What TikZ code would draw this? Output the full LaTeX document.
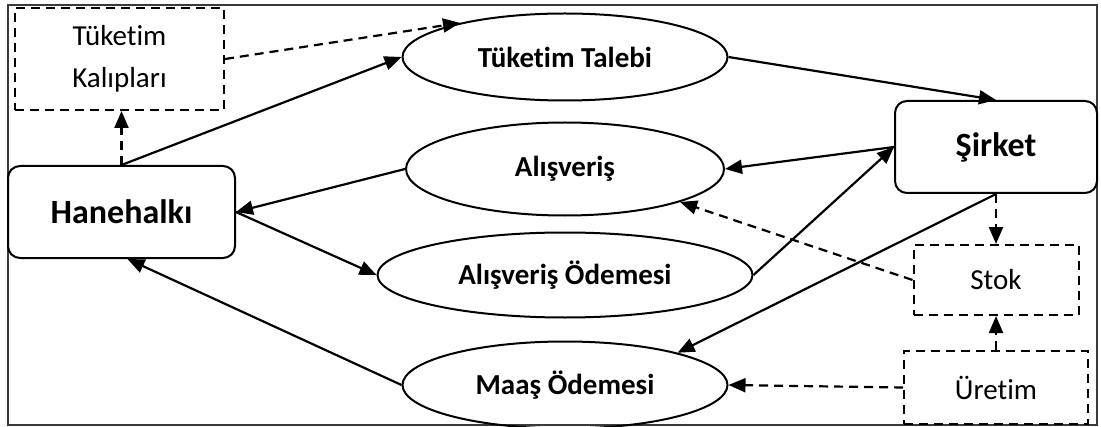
\documentclass[tikz,border=0pt]{standalone}
\usepackage{fontspec}
\setmainfont{Carlito}[Ligatures=NoCommon]
\usepackage{xcolor}
\usetikzlibrary{shapes.geometric, positioning, arrows.meta, calc}
\definecolor{frgray}{HTML}{3A3A3A}

\begin{document}
\begin{tikzpicture}[x=0.5pt, y=-0.5pt,
    ell/.style={ellipse, draw, line width=1pt, inner sep=0pt,
          font=\fontsize{14.5}{17}\selectfont\bfseries},
    mainbox/.style={rectangle, rounded corners=6pt, draw, line width=1pt, inner sep=0pt,
          font=\fontsize{17}{20}\selectfont\bfseries},
    dashbox/.style={rectangle, draw, dash pattern=on 4.5pt off 3pt, line width=1pt,
          inner sep=0pt, align=center, font=\fontsize{14.5}{21}\selectfont},
    arr/.style={-{Triangle[length=8.5pt,width=7pt]}, line width=1.1pt},
    darr/.style={arr, dash pattern=on 4.5pt off 3pt}]
  \useasboundingbox (0,0) rectangle (1101,427);
  \draw[frgray, line width=1pt] (8,5) rectangle (1097,425);

  % left side
  \node[dashbox, minimum width=104.5pt, minimum height=51pt] (tk) at (119.5,59) {Tüketim\\Kalıpları};
  \node[mainbox, minimum width=113.5pt, minimum height=46pt] (hh) at (121.5,212) {Hanehalkı};

  % flows in the middle
  \node[ell, minimum width=162.5pt, minimum height=43.5pt] (tt) at (565,57) {Tüketim Talebi};
  \node[ell, minimum width=159pt, minimum height=46.5pt, below=10pt of tt] (al) {Alışveriş};
  \node[ell, minimum width=187.5pt, minimum height=42.5pt, below=7.5pt of al] (ao) {Alışveriş Ödemesi};
  \node[ell, minimum width=162.5pt, minimum height=43.5pt, below=11pt of ao] (mo) {Maaş Ödemesi};

  % right side
  \node[mainbox, minimum width=101pt, minimum height=46pt] (sk) at (996,147) {Şirket};
  \node[dashbox, minimum width=82.5pt, minimum height=35pt, below=25pt of sk] (st) {Stok};
  \node[dashbox, minimum width=92pt, minimum height=36.5pt, below=17pt of st] (ur) {Üretim};

  % connectors
  \draw[darr] (hh.north) -- (tk.south -| hh.north);
  \draw[arr] (hh.north) -- (tt.west);
  \draw[darr] (tk.east) -- (tt.162);
  \draw[arr] (tt.east) -- (sk.north);
  \draw[arr] (sk.west) -- (al.east);
  \draw[arr] (al.west) -- (hh.east);
  \draw[arr] (hh.east) -- (ao.west);
  \draw[arr] (ao.east) -- (sk.west);
  \draw[arr] (sk.south) -- (mo.16);
  \draw[darr] (sk.south) -- (st.north);
  \draw[darr] (st.west) -- (al.-16);
  \draw[darr] (ur.north) -- (st.south);
  \draw[darr] (ur.west) -- (mo.east);
  \draw[arr] (mo.west) -- ([xshift=3pt]hh.south);
\end{tikzpicture}
\end{document}
